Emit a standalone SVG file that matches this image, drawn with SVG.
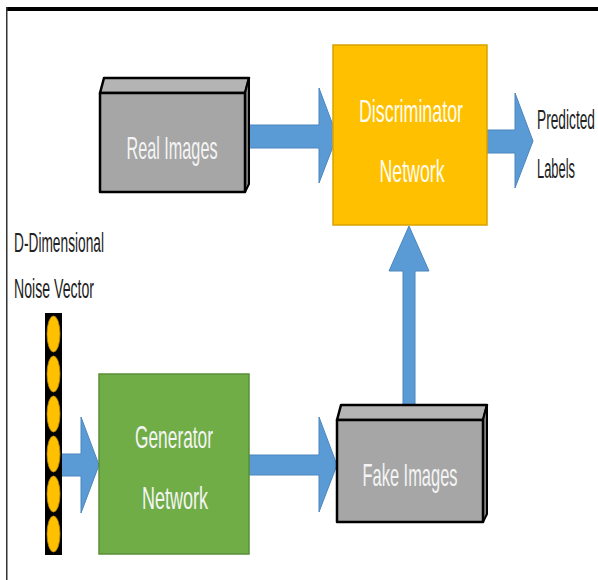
<svg xmlns="http://www.w3.org/2000/svg" width="598" height="580" viewBox="0 0 598 580">
<style>
.big{font-family:"Liberation Sans",Arial,sans-serif;font-size:32px;fill:#F4F4F4;text-anchor:middle}
.small{font-family:"Liberation Sans",Arial,sans-serif;font-size:27px;fill:#222}
.arrow{fill:#5B9BD5;stroke:#4A86BE;stroke-width:1}
.front{fill:#A6A6A6;stroke:#000;stroke-width:2.5;stroke-linejoin:round}
.top{fill:#B4B4B4;stroke:#000;stroke-width:2.5;stroke-linejoin:round}
.side{fill:#808080;stroke:#000;stroke-width:2;stroke-linejoin:round}
</style>
<rect x="0" y="0" width="598" height="580" fill="#fff"/>
<rect x="6" y="7" width="592" height="4" fill="#000"/>
<rect x="6" y="7" width="1.5" height="573" fill="#333"/>

<g id="connectors">
  <polygon class="arrow" points="249,125 319,125 319,88 337,136 319,183 319,148 249,148"/>
  <polygon class="arrow" points="487,130 515,130 515,93 533,141 515,188 515,153 487,153"/>
  <polygon class="arrow" points="61,454 81,454 81,417 99,465 81,513 81,476 61,476"/>
  <polygon class="arrow" points="249,455 319,455 319,417 337,465 319,512 319,475 249,475"/>
  <polygon class="arrow" points="403,405 403,271 389,271 409,226 429,271 415,271 415,405"/>
</g>

<g id="real-images">
  <polygon class="top" points="100,93 104,78 249,78 245,93"/>
  <polygon class="side" points="245,93 249,78 249,184 245,192"/>
  <rect class="front" x="100" y="93" width="145" height="99"/>
  <text class="big" x="172" y="159" textLength="91" lengthAdjust="spacingAndGlyphs">Real Images</text>
</g>

<g id="discriminator">
  <rect x="333" y="45" width="154" height="180" fill="#FFC000" stroke="#D9A300" stroke-width="1.5"/>
  <text class="big" x="411" y="122" textLength="104" lengthAdjust="spacingAndGlyphs" style="fill:#FFFDF2">Discriminator</text>
  <text class="big" x="412" y="182" textLength="65" lengthAdjust="spacingAndGlyphs" style="fill:#FFFDF2">Network</text>
</g>

<g id="predicted-labels">
  <text class="small" x="537" y="129" textLength="58" lengthAdjust="spacingAndGlyphs">Predicted</text>
  <text class="small" x="537" y="178" textLength="38" lengthAdjust="spacingAndGlyphs">Labels</text>
</g>

<g id="noise-vector">
  <text class="small" x="14" y="252" textLength="90" lengthAdjust="spacingAndGlyphs">D-Dimensional</text>
  <text class="small" x="14" y="298" textLength="80" lengthAdjust="spacingAndGlyphs">Noise Vector</text>
  <rect x="45" y="313" width="17" height="242" fill="#000"/>
  <g fill="#FFC000" stroke="#B8860B" stroke-width="0.8">
    <ellipse cx="53.5" cy="334" rx="6.5" ry="18"/>
    <ellipse cx="53.5" cy="374" rx="6.5" ry="18"/>
    <ellipse cx="53.5" cy="414" rx="6.5" ry="18"/>
    <ellipse cx="53.5" cy="454" rx="6.5" ry="18"/>
    <ellipse cx="53.5" cy="494" rx="6.5" ry="18"/>
    <ellipse cx="53.5" cy="534" rx="6.5" ry="18"/>
  </g>
</g>

<g id="generator">
  <rect x="99" y="374" width="150" height="180" fill="#70AD47" stroke="#5A8F38" stroke-width="1.5"/>
  <text class="big" x="174" y="448" textLength="78" lengthAdjust="spacingAndGlyphs">Generator</text>
  <text class="big" x="175" y="509" textLength="66" lengthAdjust="spacingAndGlyphs">Network</text>
</g>

<g id="fake-images">
  <polygon class="top" points="337,420 341,405 487,405 483,420"/>
  <polygon class="side" points="483,420 487,405 487,514 483,522"/>
  <rect class="front" x="337" y="420" width="146" height="102"/>
  <text class="big" x="410" y="486" textLength="95" lengthAdjust="spacingAndGlyphs">Fake Images</text>
</g>
</svg>
